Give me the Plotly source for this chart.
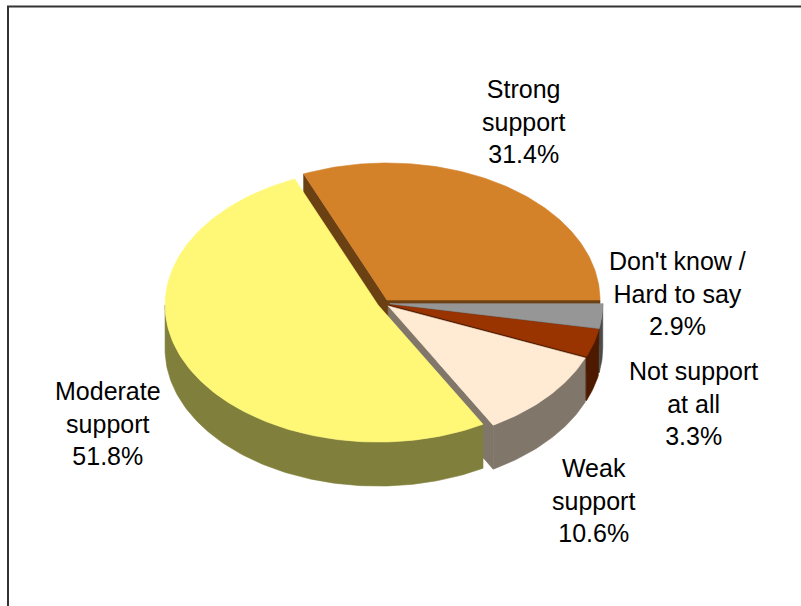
import numpy as np
import plotly.graph_objects as go

# Survey answers, listed counter-clockwise starting at 3 o'clock
categories = ["Strong support", "Moderate support", "Weak support",
              "Not support at all", "Don't know / Hard to say"]
label_lines = ["Strong<br>support", "Moderate<br>support", "Weak<br>support",
               "Not support<br>at all", "Don't know /<br>Hard to say"]
shares = [31.4, 51.8, 10.6, 3.3, 2.9]

top_colors = ["#D4822A", "#FFF877", "#FFEBD3", "#993300", "#969696"]
side_colors = ["#6B4113", "#807F3C", "#807669", "#4D1A00", "#4B4B4B"]

# Label anchor points (pixel space of the 801x606 canvas)
label_x = [523, 108, 593, 693, 677]
label_y = [121, 423, 500, 403, 293]

# Pie geometry (pixel units): centre, ellipse radii, thickness, explosion
CX, CY = 383.6, 303.3
RX, RY = 213.0, 137.0
DEPTH = 44.0
EXPLODE = 0.029
START = 0.0


def arc(cx, cy, t0, t1):
    n = max(6, int(abs(t1 - t0)) + 2)
    t = np.radians(np.linspace(t0, t1, n))
    return cx + RX * np.cos(t), cy - RY * np.sin(t)


total = float(sum(shares))
bounds = np.concatenate([[0.0], np.cumsum(shares)]) / total * 360.0 + START

radial_walls, outer_walls, tops = [], [], []
for i, name in enumerate(categories):
    t0, t1 = bounds[i], bounds[i + 1]
    mid = np.radians((t0 + t1) / 2)
    cx = CX + RX * EXPLODE * np.cos(mid)
    cy = CY - RY * EXPLODE * np.sin(mid)

    # top face
    ax, ay = arc(cx, cy, t0, t1)
    tops.append((name, np.r_[cx, ax, cx], np.r_[cy, ay, cy], top_colors[i]))

    # radial cut faces that turn toward the viewer
    for t, visible in ((t0, np.cos(np.radians(t0)) > 1e-9),
                       (t1, np.cos(np.radians(t1)) < -1e-9)):
        if visible:
            ox = cx + RX * np.cos(np.radians(t))
            oy = cy - RY * np.sin(np.radians(t))
            xs = [cx, ox, ox, cx, cx]
            ys = [cy, oy, oy + DEPTH, cy + DEPTH, cy]
            radial_walls.append((oy, name, xs, ys, side_colors[i]))

    # curved outer wall on the near half of the pie
    lo, hi = max(t0, 180.0), min(t1, 360.0)
    if hi > lo:
        wx, wy = arc(cx, cy, lo, hi)
        xs = np.r_[wx, wx[::-1], wx[0]]
        ys = np.r_[wy, wy[::-1] + DEPTH, wy[0]]
        outer_walls.append((wy.mean(), name, xs, ys, side_colors[i]))

fig = go.Figure()


def add_face(name, xs, ys, color):
    fig.add_trace(go.Scatter(
        x=list(xs), y=list(ys), mode="lines", fill="toself",
        fillcolor=color, line=dict(color=color, width=0.6),
        name=name, hoverinfo="name", showlegend=False))


for _, name, xs, ys, c in sorted(radial_walls, key=lambda w: w[0]):
    add_face(name, xs, ys, c)
for _, name, xs, ys, c in sorted(outer_walls, key=lambda w: w[0]):
    add_face(name, xs, ys, c)
for name, xs, ys, c in tops:
    add_face(name, xs, ys, c)

for i in range(len(categories)):
    fig.add_annotation(
        x=label_x[i], y=label_y[i], xref="x", yref="y",
        text=f"{label_lines[i]}<br>{shares[i]:.1f}%",
        showarrow=False, align="center",
        xanchor="center", yanchor="middle",
        font=dict(family="Liberation Sans, Arial, sans-serif", size=25, color="#000000"))

# chart frame
fig.add_shape(type="rect", xref="x", yref="y", x0=8, y0=6.5, x1=840, y1=660,
              line=dict(color="#333333", width=2), fillcolor="rgba(0,0,0,0)",
              layer="above")

fig.update_layout(
    width=801, height=606,
    margin=dict(l=0, r=0, t=0, b=0),
    paper_bgcolor="white", plot_bgcolor="white",
    xaxis=dict(range=[0, 801], visible=False, fixedrange=True),
    yaxis=dict(range=[606, 0], visible=False, fixedrange=True),
    showlegend=False,
)

fig.write_html("out.html")
